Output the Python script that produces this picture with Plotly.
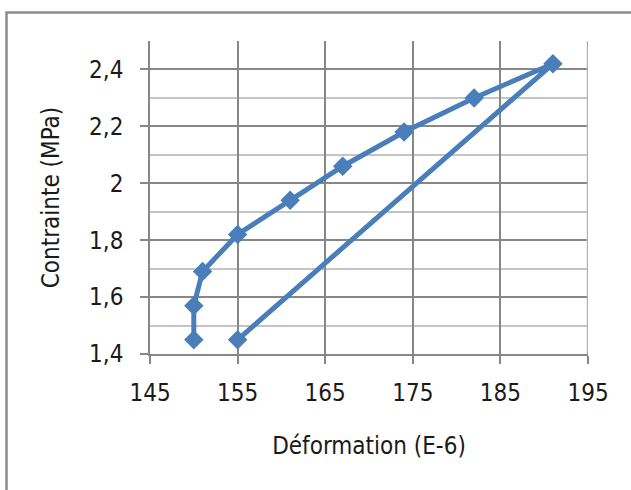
import plotly.graph_objects as go

# Data
deformation = [150, 150, 151, 155, 161, 167, 174, 182, 191, 155]
contrainte = [1.45, 1.57, 1.69, 1.82, 1.94, 2.06, 2.18, 2.30, 2.42, 1.45]

x_ticks = [145, 155, 165, 175, 185, 195]
y_ticks = [1.4, 1.6, 1.8, 2.0, 2.2, 2.4]
y_ticktext = ["1,4", "1,6", "1,8", "2", "2,2", "2,4"]

FONT = "Liberation Sans Narrow, DejaVu Sans Condensed, Arial Narrow, sans-serif"
DARK = "#878787"
LIGHT = "#c4c4c4"
BLUE = "#4A7EBB"

fig = go.Figure()
fig.add_trace(go.Scatter(
    x=deformation, y=contrainte, mode="lines+markers",
    line=dict(color=BLUE, width=5),
    marker=dict(symbol="diamond", size=15, color=BLUE),
    showlegend=False, cliponaxis=False,
))

W, H = 631, 490
L, R, T, B = 150, 43, 40.5, 136
pw, ph = W - L - R, H - T - B

fig.update_layout(
    width=W, height=H,
    margin=dict(l=L, r=R, t=T, b=B),
    paper_bgcolor="white", plot_bgcolor="white",
    font=dict(family=FONT, size=24, color="#1a1a1a"),
    xaxis=dict(
        range=[145, 195], tickmode="array", tickvals=x_ticks,
        ticktext=[str(v) for v in x_ticks],
        showgrid=True, gridcolor=DARK, gridwidth=1.5,
        showline=True, linecolor=DARK, linewidth=1.5,
        ticks="outside", ticklen=8, tickcolor=DARK, tickwidth=1.5,
        ticklabelstandoff=8,
        zeroline=False,
        title=dict(text="Déformation (E-6)", standoff=32, font=dict(size=24)),
        tickfont=dict(size=24),
    ),
    yaxis=dict(
        range=[1.4, 2.5], tickmode="array", tickvals=y_ticks, ticktext=y_ticktext,
        showgrid=True, gridcolor=DARK, gridwidth=1.5,
        showline=True, linecolor=DARK, linewidth=1.5,
        ticks="outside", ticklen=8, tickcolor=DARK, tickwidth=1.5,
        ticklabelstandoff=12,
        zeroline=False,
        minor=dict(dtick=0.1, tick0=1.4, showgrid=True, gridcolor=LIGHT, gridwidth=1.5, ticks=""),
        title=dict(text="Contrainte (MPa)", standoff=23, font=dict(size=24)),
        tickfont=dict(size=24),
    ),
    shapes=[
        # outer chart-area border (top and left visible)
        dict(type="rect", xref="paper", yref="paper",
             x0=(6.5 - L) / pw, x1=(W + 20 - L) / pw,
             y0=-(B + 20) / ph, y1=(H - 12 - B) / ph,
             line=dict(color="#8c8c8c", width=2.5), fillcolor="rgba(0,0,0,0)", layer="below"),
        # lighter right border at 195
        dict(type="line", xref="x", yref="y", x0=195, x1=195, y0=1.4, y1=2.5,
             line=dict(color="#b4b4b4", width=2.5), layer="above"),
    ],
)

fig.write_html("out.html", config={"displayModeBar": False},
               post_script="document.body.style.margin='0';document.body.style.overflow='hidden';")
